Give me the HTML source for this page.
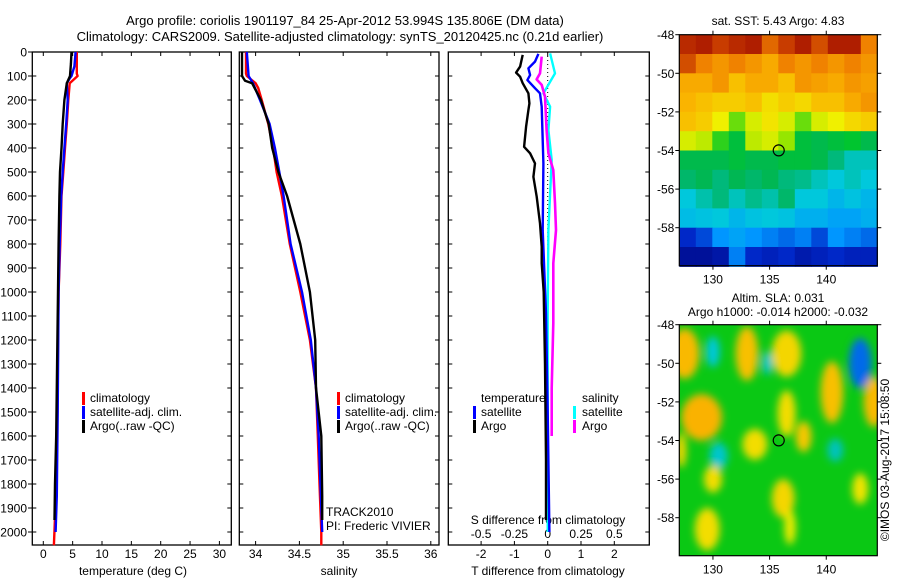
<!DOCTYPE html>
<html><head><meta charset="utf-8"><style>
html,body{margin:0;padding:0;background:#fff;}
svg{display:block;font-family:"Liberation Sans",Arial,sans-serif;}
text{font-size:12px;fill:#000;}
</style></head><body>
<svg id="c" width="900" height="580" viewBox="0 0 900 580" xmlns="http://www.w3.org/2000/svg">
<defs><filter id="blur" x="-50%" y="-50%" width="200%" height="200%"><feGaussianBlur stdDeviation="4"/></filter>
<clipPath id="clipSla"><rect x="679.3" y="324.7" width="198" height="231"/></clipPath></defs>
<text x="345" y="25" text-anchor="middle" style="font-size:13px">Argo profile: coriolis 1901197_84 25-Apr-2012 53.994S 135.806E (DM data)</text>
<text x="340" y="41" text-anchor="middle" style="font-size:13px">Climatology: CARS2009. Satellite-adjusted climatology: synTS_20120425.nc (0.21d earlier)</text>
<g id="g"></g>
</svg>
<script>
// ---- data ----
const depthTicks=[0,100,200,300,400,500,600,700,800,900,1000,1100,1200,1300,1400,1500,1600,1700,1800,1900,2000];
const tempTicks=[0,5,10,15,20,25,30];
const salTicks=[34,34.5,35,35.5,36];
const salTickLabels=["34","34.5","35","35.5","36"];
const tdiffTicks=[-2,-1,0,1,2];
const sdiffTicks=[-0.5,-0.25,0,0.25,0.5];
const sdiffTickLabels=["-0.5","-0.25","0","0.25","0.5"];

const tClimDepth=[0,90,100,130,200,300,400,500,600,800,1000,1200,1500,1800,1940,2055];
const tClimVal=[5.7,5.7,5.85,4.5,4.26,4.0,3.7,3.4,3.1,2.9,2.6,2.5,2.4,2.2,2.0,1.8];
const tSatDepth=[0,60,100,110,130,200,300,400,500,600,800,1000,1500,1850,2000];
const tSatVal=[5.5,5.3,4.8,4.5,4.0,4.15,3.9,3.6,3.3,3.05,2.8,2.6,2.45,2.3,2.1];
const tArgoDepth=[0,50,100,130,200,300,400,500,600,800,1000,1300,1600,1800,1950];
const tArgoVal=[4.8,4.7,4.55,4.0,3.6,3.3,3.1,2.85,2.75,2.6,2.5,2.35,2.2,2.0,1.9];

const sClimDepth=[0,90,100,130,150,200,300,400,500,600,800,1000,1200,1400,1600,1800,2000,2055];
const sClimVal=[33.89,33.89,33.9,34.0,34.03,34.07,34.145,34.2,34.24,34.3,34.39,34.51,34.62,34.69,34.71,34.73,34.75,34.75];
const sSatDepth=[0,100,130,200,300,400,500,600,800,1000,1200,1400,1600,1800,2000];
const sSatVal=[33.9,33.92,33.97,34.05,34.16,34.22,34.27,34.32,34.4,34.53,34.63,34.69,34.72,34.74,34.76];
const sArgoDepth=[0,100,120,130,200,300,400,500,600,800,1000,1200,1400,1600,1850,1950];
const sArgoVal=[33.845,33.845,33.88,33.96,34.06,34.15,34.19,34.26,34.36,34.51,34.62,34.68,34.69,34.75,34.76,34.76];

const dTSatDepth=[8,40,68,96,117,151,172,228,464,742,1089,1500,2000];
const dTSatVal=[-0.28,-0.38,-0.58,-0.53,-0.61,-0.38,-0.23,-0.18,-0.13,-0.15,-0.05,0.0,0.05];
const dTArgoDepth=[12,61,86,103,130,172,214,242,311,395,422,464,520,603,714,811,880,1000,1300,1700,1950];
const dTArgoVal=[-0.75,-0.83,-0.95,-0.83,-0.75,-0.58,-0.55,-0.58,-0.65,-0.71,-0.53,-0.38,-0.43,-0.33,-0.23,-0.18,-0.18,-0.12,-0.08,-0.05,-0.05];
const dSSatDepth=[6,89,172,228,325,450,742,1090,1500,2000];
const dSSatVal=[0.018,0.055,-0.032,0.018,0.005,0.03,0.005,0.0,0.0,0.0];
const dSArgoDepth=[19,89,114,137,186,325,422,492,630,742,880,1130,1400,1600];
const dSArgoVal=[-0.045,-0.058,-0.083,-0.045,-0.02,-0.008,0.005,0.042,0.055,0.062,0.042,0.042,0.03,0.03];

const lonTicks=[130,135,140];
const latTicks=[-48,-50,-52,-54,-56,-58];
const argoLon=135.806, argoLat=-53.994;
const sstLat=[-48,-49,-50,-51,-52,-53,-54,-55,-56,-57,-58,-59];
const sstGrid=[
[0.93,0.95,0.9,0.93,0.95,0.85,0.9,0.95,0.88,0.95,0.95,0.82],
[0.88,0.82,0.78,0.82,0.78,0.74,0.82,0.78,0.82,0.78,0.82,0.78],
[0.74,0.74,0.78,0.7,0.74,0.74,0.7,0.78,0.76,0.74,0.78,0.76],
[0.72,0.7,0.68,0.68,0.7,0.65,0.68,0.66,0.7,0.7,0.74,0.78],
[0.7,0.68,0.62,0.52,0.6,0.64,0.6,0.52,0.6,0.62,0.66,0.68],
[0.6,0.58,0.48,0.42,0.58,0.6,0.55,0.42,0.4,0.42,0.44,0.4],
[0.4,0.4,0.4,0.42,0.4,0.4,0.42,0.42,0.4,0.36,0.32,0.32],
[0.37,0.39,0.36,0.39,0.37,0.39,0.36,0.35,0.32,0.3,0.32,0.3],
[0.3,0.33,0.36,0.32,0.35,0.33,0.37,0.3,0.3,0.27,0.29,0.27],
[0.28,0.29,0.3,0.27,0.29,0.3,0.29,0.26,0.26,0.24,0.24,0.26],
[0.12,0.15,0.22,0.24,0.22,0.2,0.18,0.2,0.15,0.22,0.2,0.18],
[0.05,0.05,0.07,0.2,0.12,0.1,0.12,0.08,0.1,0.12,0.1,0.1]];
const slaLon=[127.5,130,133,136.5,134.8,143,140.5,144.2,129,136.5,138,133.7,130.5,130,136.2,143,129.5,140.8,127.2,136.8];
const slaLat=[-49.5,-49.4,-49.5,-49.5,-50,-50,-51.5,-52,-52.8,-52.6,-53.8,-54.2,-54.8,-56,-57,-56.5,-58.6,-54.5,-54.5,-58.5];
const slaVal=[0.8,-0.4,0.75,0.6,-0.35,-1,0.75,0.8,0.85,0.55,0.7,0.55,-0.35,0.55,0.6,0.5,0.55,-0.3,0.6,0.45];
const slaRx=[1.3,0.6,1.0,1.3,0.45,1.0,1.0,0.9,1.8,0.8,0.7,1.1,0.8,0.8,1.0,0.7,1.1,0.7,0.45,0.5];
const slaRy=[1.3,0.8,1.4,1.2,0.6,1.3,1.6,1.3,1.2,1.2,0.8,0.8,0.7,0.7,1.0,0.8,1.1,0.6,0.9,0.9];

// ---- helpers ----
const NS="http://www.w3.org/2000/svg";
const G=document.getElementById('g');
function mk(tag,attrs,parent){const e=document.createElementNS(NS,tag);for(const k in attrs)e.setAttribute(k,attrs[k]);(parent||G).appendChild(e);return e;}
const TOP=52,BOT=545;
const yD=d=>TOP+d*0.24;
const xT=t=>43.3+t*5.87;
const xS=s=>255.6+(s-34)*87.6;
const xDT=t=>547.7+t*33.3;
const xDS=s=>547.7+s*133.2;
function line(ds,vs,xf){return ds.map((d,i)=>xf(vs[i]).toFixed(1)+','+yD(d).toFixed(1)).join(' ');}

function panel(x0,x1,name){
  const r=mk('rect',{x:x0,y:TOP,width:x1-x0,height:BOT-TOP,fill:'none',stroke:'#000','stroke-width':1.3});
  
  
  depthTicks.forEach(d=>{
    const t1=mk('line',{x1:x0,x2:x0+4,y1:yD(d),y2:yD(d),stroke:'#000'});
    
    
    const t2=mk('line',{x1:x1-4,x2:x1,y1:yD(d),y2:yD(d),stroke:'#000'});
    
    
  });
}
function xtick(x,name){
  [[TOP,TOP+4],[BOT-4,BOT]].forEach(([a,b])=>{
    const t=mk('line',{x1:x,x2:x,y1:a,y2:b,stroke:'#000'});
    
    
  });
}
function txt(x,y,s,name,anchor,extra){
  const t=mk('text',Object.assign({x:x,y:y,'text-anchor':anchor||'start'},extra||{}));
  t.textContent=s;
  
  
  return t;
}
function series(pts,color,name,w){
  const p=mk('polyline',{points:pts,fill:'none',stroke:color,'stroke-width':w||2.4,'stroke-linejoin':'round'});
  
  
}
function legendBar(x,y,color,name){
  const b=mk('rect',{x:x,y:y-10,width:3,height:13,fill:color});
  
  
}

// ---- panel 1 temperature ----
panel(32.3,231.3,'temperature-panel');
depthTicks.forEach(d=>{
  const t=mk('line',{x1:28,x2:32.3,y1:yD(d),y2:yD(d),stroke:'#000'});
  
  
  txt(27,yD(d)+4.5,String(d),'depth-tick-label','end');
});
tempTicks.forEach(t=>{xtick(xT(t),'temperature-tick');txt(xT(t),558,String(t),'temperature-tick-label','middle');});
txt(133,575,'temperature (deg C)','temperature-axis-title','middle');
series(line(tClimDepth,tClimVal,xT),'#f00','temperature-climatology-line');
series(line(tSatDepth,tSatVal,xT),'#00f','temperature-satellite-line');
series(line(tArgoDepth,tArgoVal,xT),'#000','temperature-argo-line');
legendBar(82,402,'#f00','legend-climatology-swatch');txt(90,402,'climatology','legend-climatology-label');
legendBar(82,416,'#00f','legend-satellite-swatch');txt(90,416,'satellite-adj. clim.','legend-satellite-label');
legendBar(82,430,'#000','legend-argo-swatch');txt(90,430,'Argo(..raw -QC)','legend-argo-label');

// ---- panel 2 salinity ----
panel(239.3,439,'salinity-panel');
salTicks.forEach((s,i)=>{xtick(xS(s),'salinity-tick');txt(xS(s),558,salTickLabels[i],'salinity-tick-label','middle');});
txt(339,575,'salinity','salinity-axis-title','middle');
series(line(sClimDepth,sClimVal,xS),'#f00','salinity-climatology-line');
series(line(sSatDepth,sSatVal,xS),'#00f','salinity-satellite-line');
series(line(sArgoDepth,sArgoVal,xS),'#000','salinity-argo-line');
legendBar(337,402,'#f00','legend-climatology-swatch');txt(345,402,'climatology','legend-climatology-label');
legendBar(337,416,'#00f','legend-satellite-swatch');txt(345,416,'satellite-adj. clim.','legend-satellite-label');
legendBar(337,430,'#000','legend-argo-swatch');txt(345,430,'Argo(..raw -QC)','legend-argo-label');
txt(326,516,'TRACK2010','program-label');
txt(326,530,'PI: Frederic VIVIER','pi-label');

// ---- panel 3 differences ----
panel(448.3,649.3,'difference-panel');
tdiffTicks.forEach(t=>{xtick(xDT(t),'tdiff-tick');txt(xDT(t),558,String(t),'tdiff-tick-label','middle');});
sdiffTicks.forEach((s,i)=>txt(xDS(s),538,sdiffTickLabels[i],'sdiff-tick-label','middle'));
txt(548,524,'S difference from climatology','sdiff-axis-title','middle');
txt(548,575,'T difference from climatology','tdiff-axis-title','middle');
const z=mk('line',{x1:xDT(0),x2:xDT(0),y1:TOP,y2:yD(1150),stroke:'#000','stroke-dasharray':'1,3'});


series(line(dSSatDepth,dSSatVal,xDS),'#0ff','sdiff-satellite-line',2.4);
series(line(dSArgoDepth,dSArgoVal,xDS),'#f0f','sdiff-argo-line',2.6);
series(line(dTSatDepth,dTSatVal,xDT),'#00f','tdiff-satellite-line',2.4);
series(line(dTArgoDepth,dTArgoVal,xDT),'#000','tdiff-argo-line',2.4);
txt(481,402,'temperature','legend-temperature-heading');
legendBar(473,416,'#00f','legend-tsat-swatch');txt(481,416,'satellite','legend-tsat-label');
legendBar(473,430,'#000','legend-targo-swatch');txt(481,430,'Argo','legend-targo-label');
txt(582,402,'salinity','legend-salinity-heading');
legendBar(573,416,'#0ff','legend-ssat-swatch');txt(582,416,'satellite','legend-ssat-label');
legendBar(573,430,'#f0f','legend-sargo-swatch');txt(582,430,'Argo','legend-sargo-label');

// ---- maps ----
const MX0=679.3,MX1=877.3,LON0=127.03,LONS=11.33,LATS=19.3;
const mx=lon=>MX0+(lon-LON0)*LONS;
const stops=[[0,[0,0,120]],[0.12,[0,40,200]],[0.22,[0,150,255]],[0.3,[0,200,220]],[0.38,[0,180,90]],[0.45,[0,200,40]],[0.55,[150,230,0]],[0.62,[240,240,0]],[0.72,[250,180,0]],[0.82,[240,130,0]],[0.9,[200,60,0]],[1,[150,0,0]]];
function cmap(v){v=Math.max(0,Math.min(1,v));for(let i=1;i<stops.length;i++){if(v<=stops[i][0]){const [a,ca]=stops[i-1],[b,cb]=stops[i];const f=(v-a)/(b-a);return 'rgb('+ca.map((c,j)=>Math.round(c+(cb[j]-c)*f)).join(',')+')';}}return 'rgb(150,0,0)';}
function mapFrame(top,name){
  const my=lat=>top+(-48-lat)*LATS;
  const r=mk('rect',{x:MX0,y:top,width:MX1-MX0,height:231,fill:'none',stroke:'#000','stroke-width':1.2});
  
  
  lonTicks.forEach(l=>{
    [[top-4,top],[top+231,top+235]].forEach(([a,b])=>{const t=mk('line',{x1:mx(l),x2:mx(l),y1:a,y2:b,stroke:'#000'});});
    txt(mx(l),top+249,String(l),name+'-lon-label','middle');
  });
  latTicks.forEach(l=>{
    [[MX0-4,MX0],[MX1,MX1+4]].forEach(([a,b])=>{const t=mk('line',{x1:a,x2:b,y1:my(l),y2:my(l),stroke:'#000'});});
    txt(MX0-5,my(l)+4.5,String(l),name+'-lat-label','end');
  });
  const c=mk('circle',{cx:mx(argoLon),cy:my(argoLat),r:5.5,fill:'none',stroke:'#000','stroke-width':1.2});
  
  
}
// SST map
const T1=34.7;
const ncol=sstGrid[0].length, cw=(MX1-MX0)/ncol;
sstGrid.forEach((row,i)=>row.forEach((v,j)=>{
  const r=mk('rect',{x:(MX0+j*cw).toFixed(1),y:(T1+(-48-sstLat[i])*LATS).toFixed(1),width:(cw+0.6).toFixed(1),height:(LATS+0.6).toFixed(1),fill:cmap(v)});
  
  
}));
mapFrame(T1,'sst-map');
txt(778,25,'sat. SST: 5.43 Argo: 4.83','sst-map-title','middle');
// SLA map
const T2=324.7;
const bg=mk('rect',{x:MX0,y:T2,width:MX1-MX0,height:231,fill:'rgb(10,200,20)'});


const sg=mk('g',{'clip-path':'url(#clipSla)'});
const sg2=mk('g',{filter:'url(#blur)'},sg);
slaLon.forEach((lon,i)=>{
  const v=slaVal[i];
  const col=v>=0?cmap(0.52+v*0.24):cmap(0.38+v*0.2);
  const e=mk('ellipse',{cx:mx(lon),cy:T2+(-48-slaLat[i])*LATS,rx:slaRx[i]*LONS,ry:slaRy[i]*LATS,fill:col},sg2);
  
  
});
mapFrame(T2,'sla-map');
txt(778,302,'Altim. SLA: 0.031','sla-map-title','middle');
txt(778,316,'Argo h1000: -0.014 h2000: -0.032','sla-map-subtitle','middle');
txt(0,0,'©IMOS 03-Aug-2017 15:08:50','timestamp-label','middle',{transform:'translate(889,460) rotate(-90)'});
</script>
</body></html>
